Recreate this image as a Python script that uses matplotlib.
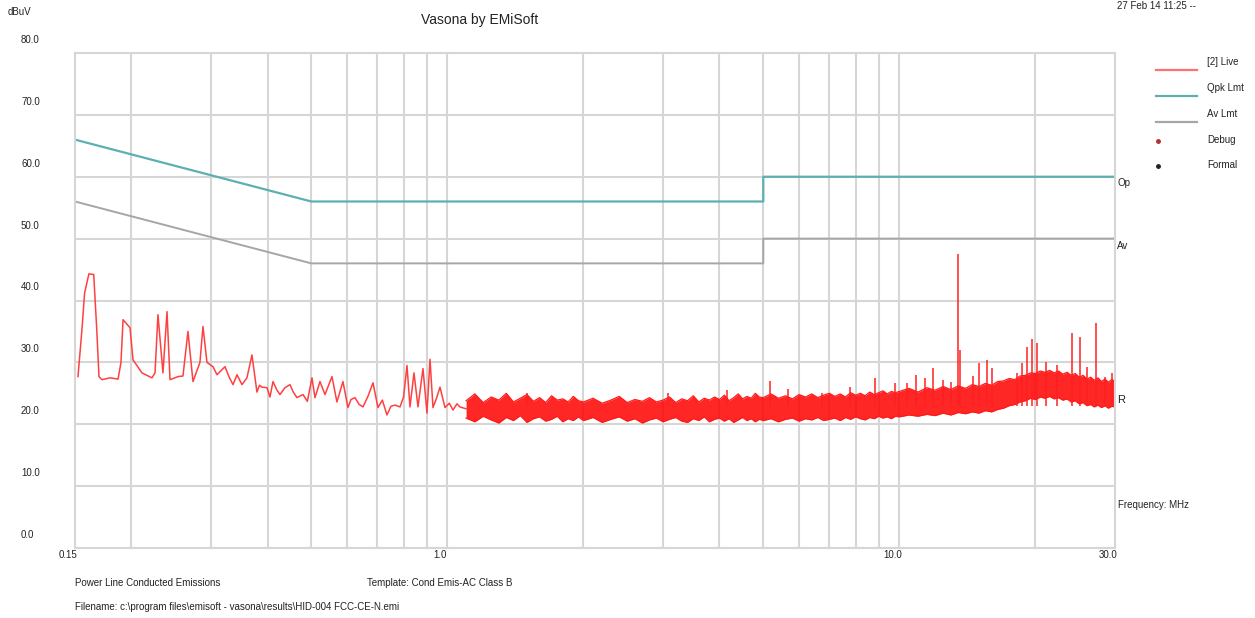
import matplotlib
matplotlib.use("Agg")
import matplotlib.pyplot as plt
from matplotlib.lines import Line2D

plt.rcParams['font.family'] = ['Liberation Sans', 'DejaVu Sans']

# measured trace, 0.15 - 1.1 MHz
low_f = [0.1523, 0.1554, 0.1575, 0.1610, 0.1650, 0.1675, 0.1695, 0.1721, 0.1793, 0.1868,
         0.1896, 0.1916, 0.1985, 0.2016, 0.2110, 0.2220, 0.2255, 0.2289, 0.2348, 0.2397,
         0.2434, 0.2535, 0.2600, 0.2667, 0.2736, 0.2835, 0.2879, 0.2938, 0.3030, 0.3092,
         0.3150, 0.3221, 0.3290, 0.3355, 0.3424, 0.3512, 0.3602, 0.3695, 0.3790, 0.3840,
         0.3889, 0.3989, 0.4050, 0.4113, 0.4190, 0.4262, 0.4370, 0.4485, 0.4560, 0.4648,
         0.4792, 0.4900, 0.5016, 0.5094, 0.5225, 0.5360, 0.5554, 0.5697, 0.5874, 0.6025,
         0.6120, 0.6244, 0.6380, 0.6505, 0.6680, 0.6845, 0.7021, 0.7180, 0.7351, 0.7500,
         0.7657, 0.7855, 0.8000, 0.8140, 0.8265, 0.8435, 0.8609, 0.8831, 0.9013, 0.9152,
         0.9293, 0.9450, 0.9630, 0.9879, 1.010, 1.029, 1.050, 1.066, 1.10]
low_v = [27.7, 35.3, 41.2, 44.3, 44.2, 35.6, 27.7, 27.2, 27.5, 27.3,
         30.0, 36.9, 35.6, 30.4, 28.3, 27.5, 28.3, 37.7, 28.3, 38.2,
         27.2, 27.7, 27.8, 35.0, 26.9, 30.0, 35.8, 30.0, 29.3, 28.0,
         28.6, 29.3, 27.6, 26.4, 28.0, 26.4, 27.5, 31.2, 25.2, 26.3,
         26.0, 25.9, 24.4, 26.9, 25.6, 24.8, 25.9, 26.4, 25.2, 24.3,
         24.8, 23.7, 27.5, 24.3, 26.9, 24.8, 27.7, 23.6, 26.9, 22.7,
         24.0, 24.3, 23.2, 22.8, 24.6, 26.7, 22.7, 23.9, 21.5, 22.9,
         23.1, 22.8, 24.4, 29.5, 22.8, 28.3, 22.8, 29.0, 21.8, 30.5,
         22.7, 24.1, 26.0, 22.7, 23.4, 22.3, 23.3, 22.8, 22.5]

# dense scan 1.1 - 30 MHz, read as lower / upper edge of the noise band
band_f = [1.10, 1.15, 1.20, 1.25, 1.30, 1.35, 1.40, 1.45, 1.50, 1.55,
          1.60, 1.65, 1.70, 1.75, 1.80, 1.85, 1.90, 1.95,
          2.0, 2.1, 2.2, 2.3, 2.4, 2.5, 2.6, 2.7, 2.8, 2.9,
          3.0, 3.1, 3.2, 3.3, 3.4, 3.5, 3.6, 3.7, 3.8, 3.9,
          4.0, 4.1, 4.2, 4.3, 4.4, 4.5, 4.6, 4.7, 4.8, 4.9,
          5.0, 5.2, 5.4, 5.6, 5.8, 6.0, 6.2, 6.4, 6.6, 6.8,
          7.0, 7.2, 7.4, 7.6, 7.8, 8.0, 8.2, 8.4, 8.6, 8.8,
          9.0, 9.2, 9.4, 9.6, 9.8,
          10.0, 10.5, 11.0, 11.5, 12.0, 12.5, 13.0, 13.5, 14.0, 14.5,
          15.0, 15.5, 16.0, 16.5, 17.0, 17.5, 18.0, 18.5, 19.0, 19.5,
          20.0, 20.5, 21.0, 21.5, 22.0, 22.5, 23.0, 23.5, 24.0, 24.5,
          25.0, 25.5, 26.0, 26.5, 27.0, 27.5, 28.0, 28.5, 29.0, 29.5, 30.0]
band_lo = [21.0, 20.4, 21.3, 20.7, 20.2, 21.1, 20.6, 21.4, 20.3, 20.9,
           21.2, 20.5, 20.8, 21.3, 20.4, 20.9, 20.6, 21.2,
           20.6, 21.1, 20.3, 20.8, 21.2, 20.5, 20.9, 20.2, 20.7, 21.0,
           20.4, 20.8, 21.1, 20.5, 20.3, 20.9, 20.6, 21.2, 20.4, 20.8,
           21.0, 20.5, 20.9, 20.3, 20.7, 21.1, 20.6, 20.9, 20.4, 20.8,
           20.6, 20.9, 20.4, 20.8, 21.0, 20.5, 20.9, 20.7, 21.1, 20.6,
           20.8, 21.0, 20.6, 21.1, 20.8, 21.2, 20.9, 20.7, 21.1, 20.9,
           21.3, 21.0, 21.2, 20.9, 21.3,
           21.2, 21.5, 21.3, 21.6, 21.4, 21.8, 21.5, 21.9, 21.7, 22.0,
           21.8, 22.2, 22.0, 22.4, 22.6, 23.0, 23.2, 23.6, 23.8, 24.2,
           24.0, 24.4, 24.2, 24.5, 24.1, 24.3, 23.9, 24.1, 23.6, 23.8,
           23.3, 23.5, 23.0, 23.2, 22.8, 23.1, 22.7, 23.0, 22.6, 22.9, 22.8]
band_hi = [23.8, 24.9, 23.5, 24.4, 23.9, 25.0, 23.6, 24.2, 24.8, 23.7,
           24.3, 23.5, 24.6, 23.9, 24.1, 23.6, 24.5, 23.8,
           23.6, 24.2, 23.4, 23.9, 24.5, 23.5, 24.0, 23.7, 24.3, 23.6,
           23.9, 24.4, 23.5, 24.1, 23.8, 24.6, 23.6, 24.2, 23.9, 24.4,
           24.0, 24.7, 23.8, 24.3, 24.9, 24.1, 24.5, 24.2, 25.0, 24.4,
           24.3, 24.9, 24.2, 24.6, 24.1, 24.8, 24.4, 24.9, 24.3, 24.7,
           25.0, 24.5, 24.9, 24.4, 25.1, 24.7, 25.0, 24.6, 25.2, 24.8,
           25.1, 25.4, 24.9, 25.3, 25.1,
           25.3, 25.8, 25.2, 25.9, 25.5, 26.1, 25.6, 26.2, 25.8, 26.4,
           26.1, 26.6, 26.3, 26.9, 27.0, 27.4, 27.2, 27.8, 27.9, 28.3,
           28.2, 28.6, 28.4, 28.7, 28.3, 28.6, 28.1, 28.4, 27.9, 28.2,
           27.6, 27.9, 27.3, 27.6, 27.1, 27.5, 26.9, 27.3, 26.8, 27.2, 27.0]

# narrow spikes above the band
spike_f = [1.5, 3.08, 4.15, 5.17, 5.67, 6.74, 7.78, 8.83, 9.78, 10.39, 10.88, 11.39, 11.87,
           12.49, 13.0, 13.48, 13.62, 14.55, 15.0, 15.63, 16.04, 18.21, 18.67, 19.16,
           19.65, 20.16, 21.10, 22.32, 24.09, 25.1, 26.0, 27.23, 28.5, 29.5]
spike_v = [25.0, 25.0, 25.6, 27.0, 25.7, 25.0, 26.1, 27.5, 26.7, 26.7, 28.0, 27.5, 29.1,
           27.2, 26.9, 47.5, 32.0, 27.8, 29.9, 30.4, 29.1, 28.3, 29.9, 32.5,
           33.7, 33.2, 30.1, 29.6, 34.8, 34.1, 29.3, 36.4, 27.7, 28.3]

# limit lines
qpk_f = [0.15, 0.5, 5.0, 5.0, 30.0]
qpk_v = [66, 56, 56, 60, 60]
av_f = [0.15, 0.5, 5.0, 5.0, 30.0]
av_v = [56, 46, 46, 50, 50]

grid_f = [0.2, 0.3, 0.4, 0.5, 0.6, 0.7, 0.8, 0.9, 1, 2, 3, 4, 5, 6, 7, 8, 9, 10, 20]
xlab_f = [0.15, 1.0, 10.0, 30.0]
xlab_t = ['0.15', '1.0', '10.0', '30.0']
ylab_v = [0, 10, 20, 30, 40, 50, 60, 70, 80]


def fx(x):
    return x / 1255


def fy(y):
    return 1 - y / 618


fig = plt.figure(figsize=(12.55, 6.18), dpi=100)
ax = fig.add_axes([fx(75), fy(548), 1040 / 1255, 495 / 618])
ax.set_xscale('log')
ax.set_xlim(0.15, 30)
ax.set_ylim(0, 80)
ax.set_xticks(grid_f)
ax.set_xticks([], minor=True)
ax.set_yticks(ylab_v)
ax.tick_params(length=0, labelbottom=False, labelleft=False)
ax.set_axisbelow(True)
ax.grid(True, color='#d6d6d6', lw=1.5)
for s in ax.spines.values():
    s.set_color('#d6d6d6')
    s.set_linewidth(1.5)

ax.plot(qpk_f, qpk_v, color='#5cb0b0', lw=1.6)
ax.plot(av_f, av_v, color='#a6a6a6', lw=1.4)

ax.fill_between(band_f, band_lo, band_hi, color='#ff0000', lw=0, alpha=0.85)
ax.plot(band_f, band_hi, color='#ff1a1a', lw=0.9)
ax.plot(band_f, band_lo, color='#ff1a1a', lw=0.9)
ax.vlines(spike_f, 23, spike_v, color='#ff2020', lw=1.1)
ax.plot(low_f, low_v, color='#ff4040', lw=1.1)

txt = dict(fontsize=7, color='#222222')
for f, t in zip(xlab_f, xlab_t):
    ax.annotate(t, (f, 0), xycoords=('data', 'axes fraction'), xytext=(-7, -7),
                textcoords='offset pixels', ha='center', va='center', **txt)
for v in ylab_v:
    ax.annotate('%.1f' % v, (0, v), xycoords=('axes fraction', 'data'), xytext=(-54, 13),
                textcoords='offset pixels', ha='left', va='center', **txt)

fig.text(fx(8), fy(12), 'dBuV', ha='left', va='center', **txt)
fig.text(fx(480), fy(20), 'Vasona by EMiSoft', ha='center', va='center', fontsize=10, color='#222222')
fig.text(fx(1117), fy(6), '27 Feb 14 11:25 --', ha='left', va='center', **txt)

fig.text(fx(1117), fy(183), 'Op', ha='left', va='center', **txt)
fig.text(fx(1117), fy(246), 'Av', ha='left', va='center', **txt)
fig.text(fx(1117), fy(400), 'R', ha='left', va='center', fontsize=8, color='#222222')
fig.text(fx(1118), fy(505), 'Frequency: MHz', ha='left', va='center', **txt)

leg_lab = ['[2] Live', 'Qpk Lmt', 'Av Lmt', 'Debug', 'Formal']
leg_col = ['#ff7070', '#5cb0b0', '#a6a6a6', '#b03030', '#222222']
leg_y = [62, 88, 114, 140, 165]
for lab, c, y in zip(leg_lab, leg_col, leg_y):
    if lab in ('Debug', 'Formal'):
        fig.add_artist(Line2D([fx(1158)], [fy(y + 1)], marker='o', ms=2.5, color=c, ls='none'))
    else:
        fig.add_artist(Line2D([fx(1156), fx(1197)], [fy(y + 8)] * 2, color=c, lw=1.6))
    fig.text(fx(1207), fy(y), lab, ha='left', va='center', **txt)

fig.text(fx(75), fy(583), 'Power Line Conducted Emissions', ha='left', va='center', **txt)
fig.text(fx(367), fy(583), 'Template: Cond Emis-AC Class B', ha='left', va='center', **txt)
fig.text(fx(75), fy(607), 'Filename: c:\\program files\\emisoft - vasona\\results\\HID-004 FCC-CE-N.emi',
         ha='left', va='center', **txt)

fig.savefig('out.png', dpi=100)
